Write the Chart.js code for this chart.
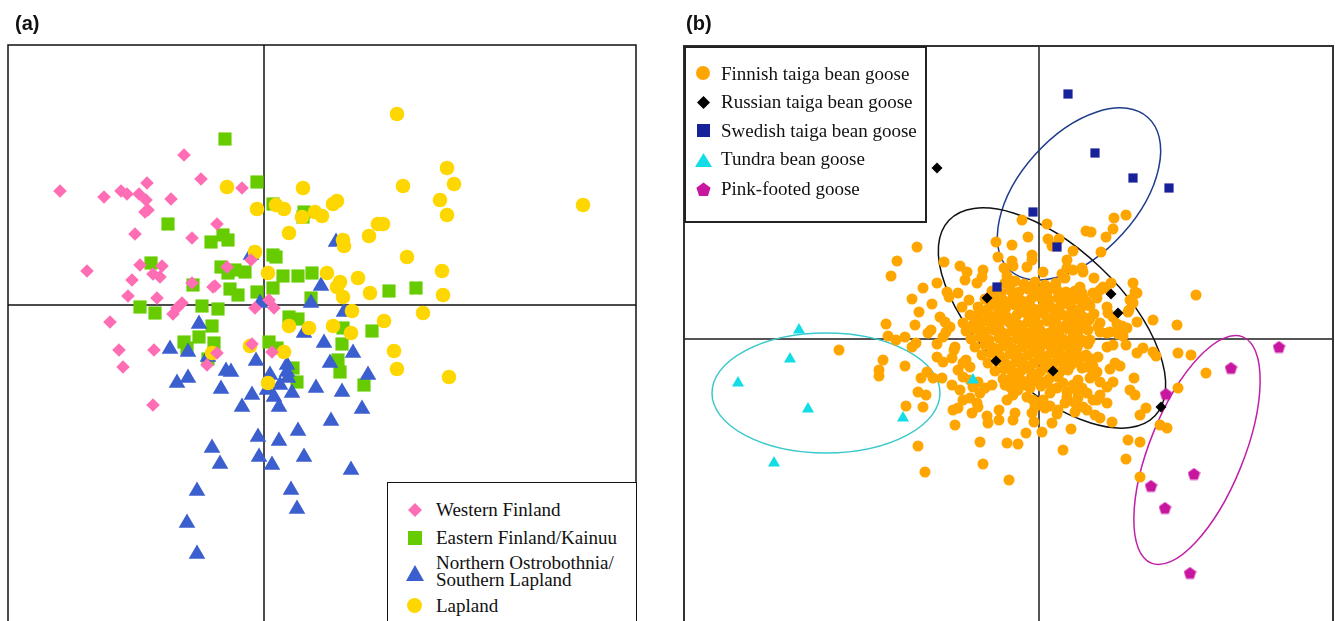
<!DOCTYPE html>
<html>
<head>
<meta charset="utf-8">
<title>Bean goose PCA plots</title>
<script src="https://cdn.jsdelivr.net/npm/chart.js@4.4.0/dist/chart.umd.min.js"></script>
<style>
    html, body { margin: 0; padding: 0; background: #fff; width: 1335px; height: 621px; overflow: hidden; }
    canvas { position: absolute; top: 0; }
    .panel-label { position: absolute; top: 13px; font: bold 20px "Liberation Sans", Arial, sans-serif; line-height: 20px; color: #111; }
    .legend-box { position: absolute; background: #fff; box-sizing: border-box; }
    .leg-text { position: absolute; font: 19px "Liberation Serif", "Times New Roman", serif; line-height: 19px; color: #111; white-space: nowrap; }
    .leg-icon { position: absolute; overflow: visible; }
</style>
</head>
<body>
<canvas id="chartA" width="660" height="700" style="left:0;width:660px;height:700px"></canvas>
<canvas id="chartB" width="665" height="700" style="left:670px;width:665px;height:700px"></canvas>

<div class="panel-label" style="left:15px">(a)</div>
<div class="panel-label" style="left:686px">(b)</div>

<!-- Legend (a) -->
<div class="legend-box" style="left:387px;top:482px;width:250px;height:160px;border:1.5px solid #111"></div>
<svg class="leg-icon" style="left:408px;top:503px" width="14" height="14"><polygon points="7,0 14,7 7,14 0,7" fill="#ff6eb4"/></svg>
<svg class="leg-icon" style="left:408px;top:531px" width="14" height="14"><rect width="14" height="14" fill="#66cc00"/></svg>
<svg class="leg-icon" style="left:406px;top:565px" width="18" height="16"><polygon points="9,0 18,16 0,16" fill="#3b5fcf"/></svg>
<svg class="leg-icon" style="left:407px;top:598px" width="15" height="15"><circle cx="7.5" cy="7.5" r="7.5" fill="#ffd700"/></svg>
<div class="leg-text" style="left:436px;top:500px">Western Finland</div>
<div class="leg-text" style="left:436px;top:528px">Eastern Finland/Kainuu</div>
<div class="leg-text" style="left:436px;top:553px">Northern Ostrobothnia/</div>
<div class="leg-text" style="left:436px;top:570px">Southern Lapland</div>
<div class="leg-text" style="left:436px;top:596px">Lapland</div>

<!-- Legend (b) -->
<div class="legend-box" style="left:684px;top:46px;width:243px;height:177px;border:2px solid #222"></div>
<svg class="leg-icon" style="left:696px;top:66px" width="14" height="14"><circle cx="7" cy="7" r="7" fill="#ffa500"/></svg>
<svg class="leg-icon" style="left:697px;top:96px" width="13" height="13"><polygon points="6.5,0 13,6.5 6.5,13 0,6.5" fill="#000"/></svg>
<svg class="leg-icon" style="left:697px;top:124px" width="13" height="13"><rect width="13" height="13" fill="#16219a"/></svg>
<svg class="leg-icon" style="left:695px;top:153px" width="17" height="14"><polygon points="8.5,0 17,14 0,14" fill="#14dde6"/></svg>
<svg class="leg-icon" style="left:696px;top:182px" width="15" height="15"><polygon points="7.5,0.5 14.6,5.7 11.9,14.1 3.1,14.1 0.4,5.7" fill="#c8169f"/></svg>
<div class="leg-text" style="left:721px;top:64px">Finnish taiga bean goose</div>
<div class="leg-text" style="left:721px;top:92px">Russian taiga bean goose</div>
<div class="leg-text" style="left:721px;top:121px">Swedish taiga bean goose</div>
<div class="leg-text" style="left:721px;top:149px">Tundra bean goose</div>
<div class="leg-text" style="left:721px;top:179px">Pink-footed goose</div>

<script>
// ---- Panel (a): PCA scores by region, [PC1, PC2] ----
const westernFinland = [
    [-80,150],[-204,114],[-160,108],[-143,114],[-137,111],[-117,122],[-125,111],[-118,105],[-93,106],[-63,126],
    [-22,117],[-119,93],[-116,95],[-47,81],[-129,71],[-72,67],[-177,34],[-124,40],[-102,39],[-111,31],
    [-104,28],[-132,25],[-72,22],[-51,18],[-49,19],[-136,9],[-107,7],[-82,2],[-87,-3],[-91,-9],
    [-37,38],[-9,-3],[5,5],[10,-3],[-13,45],[-154,-17],[-145,-45],[-110,-45],[-141,-62],[-111,-100],
    [-12,-39],[8,-47],[-57,-60],[-47,-48]
];
const easternFinland = [
    [-39,166],[-7,123],[-96,81],[-41,70],[-53,63],[-36,65],[-113,42],[-43,38],[-36,32],[-29,35],
    [-19,33],[-71,20],[-34,16],[-26,10],[-7,13],[9,50],[12,48],[19,29],[34,29],[48,32],
    [9,17],[47,7],[-124,-2],[-109,-8],[-62,-1],[-46,-4],[9,101],[40,93],[39,88],[25,-12],
    [34,-14],[125,14],[152,17],[-52,-21],[-65,-32],[-80,-37],[-77,-43],[-50,-38],[-56,-54],[5,-37],
    [13,-43],[29,-63],[33,-77],[78,-39],[74,-55],[76,-67],[108,-26],[79,-23],[100,-80]
];
const northernOstrobothnia = [
    [72,63],[-13,50],[57,19],[47,2],[-4,2],[80,-7],[-65,-19],[40,-28],[-94,-44],[-76,-47],
    [-56,-52],[60,-38],[89,-48],[-8,-56],[23,-60],[23,-67],[24,-73],[6,-70],[66,-58],[-38,-66],
    [-33,-67],[-87,-78],[-76,-73],[-43,-84],[-12,-90],[16,-80],[10,-92],[28,-88],[3,-85],[52,-83],
    [78,-87],[104,-70],[-22,-102],[15,-102],[98,-104],[67,-116],[-6,-132],[15,-136],[34,-126],[-52,-143],
    [-44,-159],[-5,-152],[8,-160],[40,-152],[87,-165],[-67,-186],[27,-185],[33,-204],[-77,-218],[-67,-249]
];
const lapland = [
    [133,191],[183,137],[190,121],[139,119],[39,117],[-37,118],[176,105],[69,101],[73,104],[183,90],
    [319,100],[51,93],[58,89],[38,88],[-7,96],[12,100],[20,96],[114,81],[119,81],[105,69],
    [25,72],[79,65],[80,59],[-9,53],[143,48],[178,34],[63,32],[4,32],[94,27],[73,18],
    [76,23],[79,8],[106,12],[179,10],[88,-6],[159,-8],[120,-16],[69,-21],[45,-23],[25,-21],
    [87,-28],[130,-46],[133,-64],[185,-72],[-14,-41],[-52,-48],[20,-47],[4,-78]
];

// ---- Panel (b): PCA scores by goose group, [PC1, PC2] ----
const finnishTaiga = [
    // outer scatter
    [-122,92],[-142,78],[-148,63],[-95,77],[-79,73],[-72,67],[-74,59],[-56,69],[-57,62],[-62,56],
    [-43,97],[-116,51],[-102,56],[-92,47],[-90,42],[-127,40],[-107,35],[-120,27],[-81,46],[-70,39],
    [-77,32],[-153,15],[-124,14],[-99,22],[-94,17],[-89,12],[-93,7],[-111,6],[-108,9],[-151,3],
    [-143,-1],[-134,2],[-127,-8],[-123,-4],[-102,-5],[-96,2],[-200,-11],[-156,-21],[-134,-27],[-160,-31],
    [-160,-37],[-112,-33],[-118,-39],[-106,-39],[-97,-39],[-121,-53],[-113,-56],[-133,-67],[-116,-68],[-121,-107],
    [-114,-133],[-102,-18],[-96,-23],[-87,-19],[-85,-11],[-84,-86],[-86,-71],[-81,-69],[-87,-46],[-79,-51],
    [-74,-23],[-69,-28],[-59,-103],[-56,-125],[-67,-74],[-61,-68],[-52,-77],[-51,-84],[-40,-81],[-30,-141],
    [-32,-104],[-76,-61],[-69,-59],[-62,-64],[-59,-54],[-54,-49],[-47,-46],[-76,-38],[-69,-41],[-61,-43],
    [-66,-48],
    [87,124],[75,121],[74,110],[47,108],[52,107],[67,102],[62,87],[-17,119],[8,115],[-27,94],
    [-11,102],[9,100],[20,100],[13,93],[34,88],[-7,84],[-7,79],[-27,78],[-26,73],[-12,72],
    [-35,71],[-32,63],[28,79],[28,71],[23,65],[34,69],[43,71],[26,61],[4,67],[55,61],
    [44,67],[72,56],[94,56],[96,47],[93,40],[64,52],[57,44],[41,52],[43,46],[157,44],
    [114,19],[138,14],[90,29],[78,15],[84,9],[79,5],[68,32],[69,26],[61,16],[51,21],
    [59,12],[68,6],[98,17],[-41,82],
    [104,-9],[114,-13],[117,-17],[139,-14],[152,-16],[167,-34],[139,-49],[95,-39],[91,-51],[96,-56],
    [107,-69],[101,-76],[121,-86],[128,-89],[89,-101],[101,-103],[87,-120],[101,-138],[87,-6],[98,-14],
    [73,-83],[61,-79],[56,-76],[32,-90],[24,-111],[3,-93],[13,-84],[-13,-94],[-21,-105],[-26,-81],
    [-24,-74],[-7,-74],[-5,-83],[19,-71],[36,-73],[44,-68],[76,-24],[81,-27],[71,-30],[58,-33],
    [51,-39],[61,-56],[58,-61],[68,-64],[48,-71],[36,-64],[39,-59],[34,-46],[38,-52],[28,-58],
    [26,-64],[18,-75],[47,-16],[50,-19],[51,-1],[61,7],[71,7],[68,-8],[39,-23],[43,-29],
    [33,-19],[54,-27],[48,-28],[83,13],[84,3],[74,-6],[49,-5],[41,-3],[36,-11],[89,27],
    [91,39],[94,36],[74,22],[6,-69],[11,-67],[4,-61],[-6,-61],[-4,-68],[-12,-58],[-7,-43],
    [-14,-46],[-21,-51],[-26,-56],[-32,-61],[-21,-38],[-27,-41],[-34,-46],[18,-49],[11,-54],[54,-61],
    [48,-54],[43,-49],[74,-43],[68,-48],[61,-43],[88,11],
    [54,-36],[59,-18],[98,46],[54,46],[58,41],[61,49],[66,51],[28,44],[33,39],[38,22],
    [41,11],[34,7],[34,-4],[38,-9],[43,-18],[24,-44],[28,-53],[39,-41],[-84,-8],[-81,-31],
    [-76,-24],[-73,-21],[-40,-71],
    // dense core
    [-34,56],[-24,58],[-15,55],[-4,57],[6,54],[17,56],
    [-47,48],[-38,46],[-29,49],[-20,47],[-11,50],[-1,48],[8,46],[18,49],[27,47],[36,48],
    [-54,40],[-45,42],[-36,39],[-26,41],[-17,38],[-8,40],[1,42],[10,39],[19,41],[29,38],[39,40],[48,37],
    [-61,32],[-51,30],[-42,33],[-33,31],[-24,34],[-15,32],[-5,30],[4,33],[13,31],[22,34],[32,32],[41,30],[51,33],
    [-69,24],[-60,26],[-50,23],[-41,25],[-32,22],[-22,24],[-13,26],[-4,23],[5,25],[15,22],[24,24],[33,26],[43,23],[55,25],
    [-76,16],[-66,14],[-57,17],[-48,15],[-38,18],[-29,16],[-20,14],[-11,17],[-1,15],[8,18],[17,16],[27,14],[36,17],[46,15],
    [-73,8],[-64,10],[-54,7],[-45,9],[-36,6],[-27,8],[-17,10],[-8,7],[1,9],[10,6],[20,8],[29,10],[39,7],[49,9],
    [-68,0],[-59,2],[-50,-1],[-40,1],[-31,-2],[-22,0],[-13,2],[-3,-1],[6,1],[15,-2],[24,0],[34,2],[43,-1],
    [-64,-8],[-54,-6],[-45,-9],[-36,-7],[-26,-10],[-17,-8],[-8,-6],[1,-9],[11,-7],[20,-10],[29,-8],[39,-6],
    [-57,-16],[-48,-14],[-39,-17],[-29,-15],[-20,-18],[-11,-16],[-2,-14],[8,-17],[17,-15],[26,-18],[35,-16],
    [-51,-24],[-42,-22],[-33,-25],[-23,-23],[-14,-26],[-5,-24],[4,-22],[14,-25],[23,-23],[32,-26],
    [-44,-32],[-35,-30],[-26,-33],[-17,-31],[-7,-34],[2,-32],[11,-30],[21,-33],[29,-31],
    [-36,-40],[-27,-38],[-18,-41],[-8,-39],[1,-42],[10,-40],[19,-38],
    [-29,-48],[-19,-46],[-9,-49],[2,-47],[13,-50],
    // in-between fill
    [-29,52],[-9,52],[12,51],[-42,44],[-22,43],[-3,44],[23,44],[44,42],
    [-47,35],[-28,36],[-10,36],[9,35],[27,36],[46,34],[-55,28],[-36,27],[-18,29],[0,28],[19,28],[38,28],
    [-62,20],[-43,20],[-25,19],[-6,20],[13,20],[31,20],[50,19],[-59,11],[-40,12],[-22,12],[-4,11],[15,12],[34,12],
    [-54,3],[-35,4],[-17,5],[2,4],[20,4],[38,3],[-50,-5],[-31,-4],[-12,-4],[6,-4],[25,-5],
    [-43,-12],[-24,-12],[-6,-11],[13,-12],[31,-12],[-37,-20],[-18,-21],[0,-20],[19,-21],[-30,-28],[-11,-29],[8,-28],[25,-28],
    [-22,-36],[-3,-37],[15,-36],[-14,-44],[6,-44]
];
const russianTaiga = [[-102,171],[-52,41],[72,45],[79,26],[-43,-22],[14,-32],[122,-68]];
const swedishTaiga = [[29,245],[56,186],[94,161],[130,151],[-6,127],[18,92],[-42,52]];
const tundraBean = [[-240,9],[-249,-20],[-301,-44],[-231,-70],[-136,-79],[-265,-124],[-66,-41]];
const pinkFooted = [[240,-8],[192,-29],[127,-55],[155,-135],[112,-147],[126,-169],[151,-234]];

// 95% ellipses for panel (b): Swedish, Russian, Tundra, Pink-footed
const ellipseCentreX = [40, 13, -213, 158];
const ellipseCentreY = [145, 21, -54, -111];
const ellipseSemiMajor = [103, 142, 114, 122];
const ellipseSemiMinor = [59, 70, 60, 47];
const ellipseAngleDeg = [48, -43.5, 0, 68];
const ellipseColours = ['#1f3c8c', '#111111', '#3cc8cc', '#c020a8'];

const toPoints = arr => arr.map(p => ({ x: p[0], y: p[1] }));

// Pentagon marker (Chart.js has no built-in pentagon)
function pentagonMarker(size, color) {
    const c = document.createElement('canvas');
    c.width = size; c.height = size;
    const g = c.getContext('2d');
    g.fillStyle = color;
    g.beginPath();
    for (let i = 0; i < 5; i++) {
        const ang = -Math.PI / 2 + i * 2 * Math.PI / 5;
        const px = size / 2 + (size / 2) * Math.cos(ang);
        const py = size / 2 + 0.6 + (size / 2) * Math.sin(ang);
        if (i === 0) g.moveTo(px, py); else g.lineTo(px, py);
    }
    g.closePath();
    g.fill();
    return c;
}

// Frame, zero axes and optional ellipses
const frameAxes = {
    id: 'frameAxes',
    beforeDatasetsDraw(chart, args, opts) {
        const { ctx, chartArea: a, scales: { x, y } } = chart;
        const x0 = x.getPixelForValue(0);
        const y0 = y.getPixelForValue(0);
        ctx.save();
        ctx.strokeStyle = opts.axisColor;
        ctx.lineWidth = opts.axisWidth;
        ctx.beginPath();
        ctx.moveTo(x0, a.top); ctx.lineTo(x0, a.bottom);
        ctx.moveTo(a.left, y0); ctx.lineTo(a.right, y0);
        ctx.stroke();

        (opts.ellipses || []).forEach(e => {
            const cx = x.getPixelForValue(e.cx);
            const cy = y.getPixelForValue(e.cy);
            const sx = x.getPixelForValue(e.cx + 1) - cx;
            const sy = cy - y.getPixelForValue(e.cy + 1);
            ctx.save();
            ctx.translate(cx, cy);
            ctx.scale(sx, -sy);
            ctx.rotate(e.angle * Math.PI / 180);
            ctx.beginPath();
            ctx.ellipse(0, 0, e.a, e.b, 0, 0, Math.PI * 2);
            ctx.restore();
            ctx.strokeStyle = e.color;
            ctx.lineWidth = 1.5;
            ctx.stroke();
        });
        ctx.restore();
    },
    afterDraw(chart, args, opts) {
        const { ctx, chartArea: a } = chart;
        ctx.save();
        ctx.strokeStyle = opts.frameColor;
        ctx.lineWidth = opts.frameWidth;
        ctx.strokeRect(a.left, a.top, a.right - a.left, a.bottom - a.top);
        ctx.restore();
    }
};

function scatterSet(label, data, style, color, radius, order) {
    return {
        label: label,
        data: toPoints(data),
        pointStyle: style,
        pointRadius: radius,
        pointHoverRadius: radius,
        pointBackgroundColor: color,
        pointBorderWidth: 0,
        backgroundColor: color,
        order: order
    };
}

function baseOptions(padding, xRange, yRange, pluginOpts) {
    return {
        responsive: false,
        animation: false,
        devicePixelRatio: 1,
        events: [],
        layout: { padding: padding, autoPadding: false },
        plugins: {
            legend: { display: false },
            tooltip: { enabled: false },
            frameAxes: pluginOpts
        },
        scales: {
            x: { type: 'linear', min: xRange[0], max: xRange[1], display: false },
            y: { type: 'linear', min: yRange[0], max: yRange[1], display: false }
        }
    };
}

// Panel (a)
new Chart(document.getElementById('chartA'), {
    type: 'scatter',
    data: {
        datasets: [
            scatterSet('Western Finland', westernFinland, 'rectRot', '#ff6eb4', 6.8, 0),
            scatterSet('Eastern Finland/Kainuu', easternFinland, 'rect', '#66cc00', 9.3, 3),
            scatterSet('Northern Ostrobothnia/Southern Lapland', northernOstrobothnia, 'triangle', '#3b5fcf', 9.6, 2),
            scatterSet('Lapland', lapland, 'circle', '#ffd700', 7.3, 1)
        ]
    },
    options: baseOptions(
        { left: 8, top: 45, right: 24, bottom: 20 },
        [-256, 372], [-375, 260],
        { axisColor: '#111', axisWidth: 1.5, frameColor: '#111', frameWidth: 1.5 }
    ),
    plugins: [frameAxes]
});

// Panel (b)
const ellipses = ellipseCentreX.map((cx, i) => ({
    cx: cx,
    cy: ellipseCentreY[i],
    a: ellipseSemiMajor[i],
    b: ellipseSemiMinor[i],
    angle: ellipseAngleDeg[i],
    color: ellipseColours[i]
}));

new Chart(document.getElementById('chartB'), {
    type: 'scatter',
    data: {
        datasets: [
            scatterSet('Finnish taiga bean goose', finnishTaiga, 'circle', '#ffa500', 5.5, 5),
            scatterSet('Russian taiga bean goose', russianTaiga, 'rectRot', '#000000', 5.5, 0),
            scatterSet('Swedish taiga bean goose', swedishTaiga, 'rect', '#16219a', 6.5, 1),
            scatterSet('Tundra bean goose', tundraBean, 'triangle', '#14dde6', 7, 2),
            scatterSet('Pink-footed goose', pinkFooted, pentagonMarker(13, '#c8169f'), '#c8169f', 6.5, 3)
        ]
    },
    options: baseOptions(
        { left: 14, top: 46, right: 2, bottom: 20 },
        [-355, 294], [-341, 293],
        { axisColor: '#555', axisWidth: 2, frameColor: '#333', frameWidth: 2, ellipses: ellipses }
    ),
    plugins: [frameAxes]
});
</script>
</body>
</html>
